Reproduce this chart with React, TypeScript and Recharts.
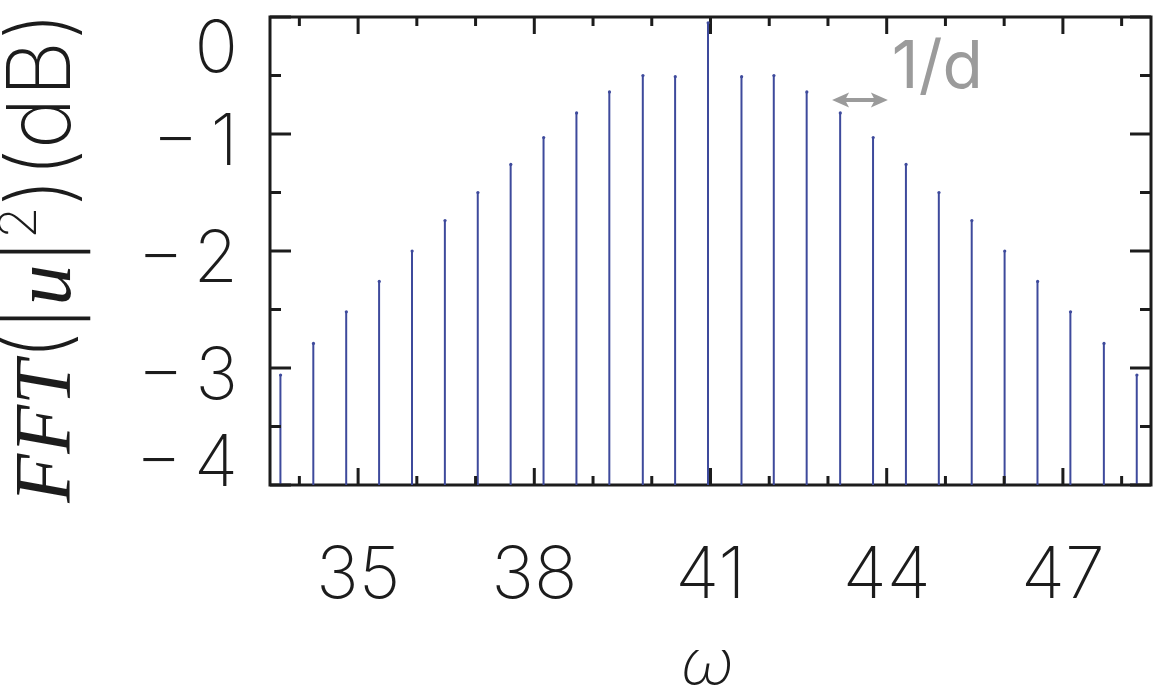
import React from "react";
import {
  Bar,
  ComposedChart,
  ReferenceArea,
  ReferenceLine,
  Scatter,
  XAxis,
  YAxis,
} from "recharts";

// stem positions (omega) and peak levels (dB)
const omegas = [
  33.68, 34.24, 34.8, 35.36, 35.92, 36.48, 37.04, 37.6, 38.16, 38.72, 39.28, 39.85, 40.4, 40.96,
  41.53, 42.08, 42.64, 43.21, 43.77, 44.33, 44.89, 45.45, 46.01, 46.57, 47.13, 47.7, 48.26,
];
const levels = [
  -3.06, -2.79, -2.52, -2.26, -2.0, -1.74, -1.5, -1.26, -1.03, -0.82, -0.64, -0.5, -0.51, -0.05,
  -0.51, -0.5, -0.64, -0.82, -1.03, -1.26, -1.5, -1.74, -2.0, -2.26, -2.52, -2.79, -3.06,
];

const xMajor = [35, 38, 41, 44, 47];
const xMinor = [34, 36, 37, 39, 40, 42, 43, 45, 46, 48];
const yMajor = [0, -1, -2, -3, -4];
const yMinor = [-0.5, -1.5, -2.5, -3.5];

// the 1/d marker between two neighbouring stems
const arrowFrom = 43.07;
const arrowTo = 44.02;
const arrowLevel = -0.71;

const X_DOMAIN: [number, number] = [33.5, 48.5];
const Y_DOMAIN: [number, number] = [-4, 0];
const FLOOR = Y_DOMAIN[0];

const STEM = "#3e4a9c";
const INK = "#1c1c1c";
const GREY = "#9b9b9b";
const SANS = "Inter, 'DejaVu Sans', sans-serif";
const SERIF = "Liberation Serif";

const data = omegas.map((w, i) => ({ w, v: levels[i], range: [FLOOR, levels[i]] }));

// y labels at the ends sit inside the frame
const yLabelShift: Record<number, number> = { 0: 28, [-4]: -26 };

const XTickLabel = (props: any) => {
  const { x, y, payload } = props;
  return (
    <text x={x} y={y + 86} textAnchor="middle" dominantBaseline="central" fontFamily={SANS} fontWeight={200} fontSize={72} fill={INK}>
      {payload.value}
    </text>
  );
};

const YTickLabel = (props: any) => {
  const { x, y, payload } = props;
  const v = payload.value as number;
  const dy = yLabelShift[v] ?? 4;
  return (
    <text x={x - 32} y={y + dy} textAnchor="end" dominantBaseline="central" fontFamily={SANS} fontWeight={200} fontSize={72} fill={INK}>
      {v === 0 ? "0" : (
        <>
          <tspan>−</tspan>
          <tspan dx={12}>{Math.abs(v)}</tspan>
        </>
      )}
    </text>
  );
};

const xTicks = (len: number) => (p: any) => {
  const x = p.x1;
  const top = Math.min(p.y1, p.y2);
  const bot = Math.max(p.y1, p.y2);
  return (
    <g stroke={INK} strokeWidth={3}>
      <line x1={x} x2={x} y1={top} y2={top + len} />
      <line x1={x} x2={x} y1={bot} y2={bot - len} />
    </g>
  );
};

const yTicks = (len: number) => (p: any) => {
  const y = p.y1;
  const left = Math.min(p.x1, p.x2);
  const right = Math.max(p.x1, p.x2);
  return (
    <g stroke={INK} strokeWidth={3}>
      <line x1={left} x2={left + len} y1={y} y2={y} />
      <line x1={right} x2={right - len} y1={y} y2={y} />
    </g>
  );
};

const arrowShape = (p: any) => {
  const x1 = Math.min(p.x1, p.x2);
  const x2 = Math.max(p.x1, p.x2);
  const y = p.y1;
  const h = 15;
  return (
    <g>
      <line x1={x1 + 10} x2={x2 - 10} y1={y} y2={y} stroke={GREY} strokeWidth={4} />
      <polygon points={`${x1},${y} ${x1 + 17},${y - h / 2} ${x1 + 13},${y} ${x1 + 17},${y + h / 2}`} fill={GREY} />
      <polygon points={`${x2},${y} ${x2 - 17},${y - h / 2} ${x2 - 13},${y} ${x2 - 17},${y + h / 2}`} fill={GREY} />
      <text x={x2 + 4} y={y - 12} fontFamily={SANS} fontWeight={400} fontSize={66} fill={GREY}>
        1/d
      </text>
    </g>
  );
};

const yTitle = (props: any) => {
  const vb = props.viewBox;
  const cx = vb.x + 70;
  const cy = vb.y + vb.height / 2 + 6;
  return (
    <text x={cx} y={cy} transform={`rotate(-90, ${cx}, ${cy})`} textAnchor="middle" fill={INK} fontFamily={SANS} fontWeight={200} fontSize={88}>
      <tspan fontFamily={SERIF} fontStyle="italic" fontWeight="normal" fontSize={80}>FFT</tspan>
      <tspan>(|</tspan>
      <tspan fontFamily={SERIF} fontStyle="italic" fontWeight="normal" fontSize={82}>u</tspan>
      <tspan>|</tspan>
      <tspan fontSize={52} dy={-34}>2</tspan>
      <tspan dy={34}>)(dB)</tspan>
    </text>
  );
};

const xTitle = (props: any) => {
  const vb = props.viewBox;
  return (
    <text x={vb.x + vb.width / 2 - 3} y={vb.y + 200} textAnchor="middle" fill={INK} fontFamily={SANS} fontWeight={200} fontStyle="italic" fontSize={64}>
      ω
    </text>
  );
};

export default function App() {
  return (
    <div style={{ position: "absolute", left: 0, top: 0, background: "#fff" }}>
      <ComposedChart width={1155} height={694} data={data} margin={{ top: 17, right: 4, bottom: 0, left: 0 }}>
        <XAxis
          dataKey="w"
          type="number"
          domain={X_DOMAIN}
          ticks={xMajor}
          allowDataOverflow
          tickLine={false}
          axisLine={false}
          tickSize={0}
          tickMargin={0}
          height={209}
          tick={<XTickLabel />}
          label={{ content: xTitle }}
        />
        <YAxis
          type="number"
          domain={Y_DOMAIN}
          ticks={yMajor}
          allowDataOverflow
          tickLine={false}
          axisLine={false}
          tickSize={0}
          tickMargin={0}
          width={270}
          tick={<YTickLabel />}
          label={{ content: yTitle }}
        />
        <Bar dataKey="range" barSize={2} fill={STEM} isAnimationActive={false} />
        <Scatter dataKey="v" fill={STEM} isAnimationActive={false} shape={(p: any) => <circle cx={p.cx} cy={p.cy} r={1.6} fill={STEM} />} />
        {xMajor.map((v) => (
          <ReferenceLine key={`xM${v}`} x={v} ifOverflow="visible" shape={xTicks(17)} />
        ))}
        {xMinor.map((v) => (
          <ReferenceLine key={`xm${v}`} x={v} ifOverflow="visible" shape={xTicks(9)} />
        ))}
        {yMajor.map((v) => (
          <ReferenceLine key={`yM${v}`} y={v} ifOverflow="visible" shape={yTicks(21)} />
        ))}
        {yMinor.map((v) => (
          <ReferenceLine key={`ym${v}`} y={v} ifOverflow="visible" shape={yTicks(11)} />
        ))}
        <ReferenceLine
          segment={[
            { x: arrowFrom, y: arrowLevel },
            { x: arrowTo, y: arrowLevel },
          ]}
          ifOverflow="visible"
          shape={arrowShape}
        />
        <ReferenceArea x1={X_DOMAIN[0]} x2={X_DOMAIN[1]} y1={Y_DOMAIN[0]} y2={Y_DOMAIN[1]} fill="none" stroke={INK} strokeWidth={3} ifOverflow="visible" />
      </ComposedChart>
    </div>
  );
}
